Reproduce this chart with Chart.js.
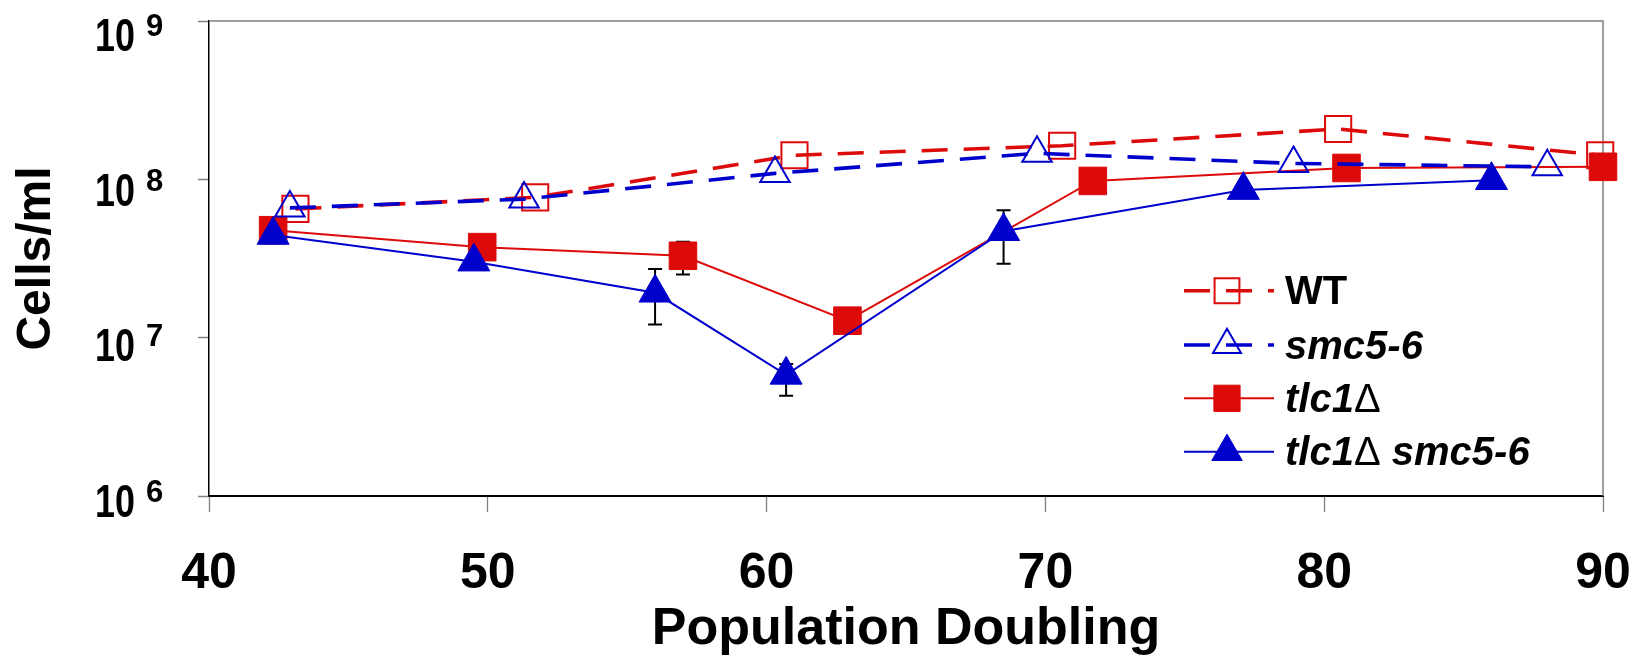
<!DOCTYPE html>
<html>
<head>
<meta charset="utf-8">
<script src="https://cdn.jsdelivr.net/npm/chart.js@4.4.1/dist/chart.umd.min.js"></script>
<style>
  html, body { margin: 0; padding: 0; background: #fff; }
  #wrap { width: 1636px; height: 659px; position: relative; }
</style>
</head>
<body>
<div id="wrap"><canvas id="c" width="1636" height="659"></canvas></div>
<script>
// ---------------- data ----------------
const seriesNames = ['WT', 'smc5-6', 'tlc1Δ', 'tlc1Δ smc5-6'];

const wtX = [43.1, 51.7, 61.0, 70.6, 80.5, 89.9];
const wtY = [6.5e7, 7.7e7, 1.42e8, 1.63e8, 2.08e8, 1.42e8];

const smcX = [42.9, 51.3, 60.3, 69.7, 78.9, 88.0];
const smcY = [6.6e7, 7.5e7, 1.09e8, 1.46e8, 1.26e8, 1.2e8];

const tlcX = [42.3, 49.8, 57.0, 62.9, 71.7, 80.8, 90.0];
const tlcY = [4.77e7, 3.73e7, 3.29e7, 1.28e7, 9.77e7, 1.18e8, 1.2e8];
const tlcErrLow  = [null, null, 2.51e7, null, null, null, null];
const tlcErrHigh = [null, null, 4.04e7, null, null, null, null];

const dblX = [42.3, 49.5, 56.0, 60.7, 68.5, 77.1, 86.0];
const dblY = [4.45e7, 3.02e7, 1.92e7, 5.82e6, 4.7e7, 8.55e7, 9.87e7];
const dblErrLow  = [null, null, 1.21e7, 4.29e6, 2.93e7, null, null];
const dblErrHigh = [null, null, 2.71e7, 6.82e6, 6.39e7, null, null];

const xTickValues = [40, 50, 60, 70, 80, 90];
const yTickExponents = [6, 7, 8, 9];
const yTickBase = '10';
const xTitle = 'Population Doubling';
const yTitle = 'Cells/ml';

// ---------------- styles ----------------
const RED = '#dd0a0a';
const BLUE = '#0000cc';
const FONT = '"Liberation Sans", Arial, Helvetica, sans-serif';

function pts(xs, ys) { return xs.map((x, i) => ({ x: x, y: ys[i] })); }

const errorSets = [
  { xs: tlcX, lo: tlcErrLow, hi: tlcErrHigh },
  { xs: dblX, lo: dblErrLow, hi: dblErrHigh }
];

// error bars drawn behind markers
const errorBarPlugin = {
  id: 'errorBars',
  beforeDatasetsDraw(chart) {
    const ctx = chart.ctx, xs = chart.scales.x, ys = chart.scales.y;
    ctx.save();
    ctx.strokeStyle = '#000';
    ctx.lineWidth = 2;
    errorSets.forEach(s => {
      s.xs.forEach((xv, i) => {
        if (s.lo[i] == null) return;
        const px = xs.getPixelForValue(xv);
        const p1 = ys.getPixelForValue(s.lo[i]);
        const p2 = ys.getPixelForValue(s.hi[i]);
        const cw = 7;
        ctx.beginPath();
        ctx.moveTo(px, p1); ctx.lineTo(px, p2);
        ctx.moveTo(px - cw, p1); ctx.lineTo(px + cw, p1);
        ctx.moveTo(px - cw, p2); ctx.lineTo(px + cw, p2);
        ctx.stroke();
      });
    });
    ctx.restore();
  }
};

// top / right frame in gray
const framePlugin = {
  id: 'frame',
  beforeDatasetsDraw(chart) {
    const {ctx, chartArea: a} = chart;
    ctx.save();
    ctx.strokeStyle = '#808080';
    ctx.lineWidth = 1.5;
    ctx.beginPath();
    ctx.moveTo(a.left, a.top); ctx.lineTo(a.right, a.top); ctx.lineTo(a.right, a.bottom);
    ctx.stroke();
    ctx.restore();
  }
};

// y tick labels 10^n
const yLabelPlugin = {
  id: 'yLabels',
  afterDraw(chart) {
    const ctx = chart.ctx, ys = chart.scales.y;
    ctx.save();
    ctx.fillStyle = '#000';
    ctx.textAlign = 'left';
    ctx.textBaseline = 'alphabetic';
    yTickExponents.forEach(e => {
      const py = ys.getPixelForValue(Math.pow(10, e));
      const base = py + 30 - (py - ys.top) * 0.02;
      ctx.save();
      ctx.translate(95, base);
      ctx.scale(0.78, 1);
      ctx.font = 'bold 46px ' + FONT;
      ctx.fillText(yTickBase, 0, 0);
      ctx.restore();
      ctx.font = 'bold 31px ' + FONT;
      ctx.fillText(String(e), 146, base - 15);
    });
    ctx.restore();
  }
};

function drawMarker(ctx, style, x, y, r, fill, stroke, bw) {
  ctx.beginPath();
  if (style === 'rect') {
    const h = r * Math.SQRT1_2;
    ctx.rect(x - h, y - h, 2 * h, 2 * h);
  } else {
    let rad = 0;
    const T = Math.PI * 2 / 3;
    ctx.moveTo(x + Math.sin(rad) * r, y - Math.cos(rad) * r);
    rad += T; ctx.lineTo(x + Math.sin(rad) * r, y - Math.cos(rad) * r);
    rad += T; ctx.lineTo(x + Math.sin(rad) * r, y - Math.cos(rad) * r);
    ctx.closePath();
  }
  if (fill) { ctx.fillStyle = fill; ctx.fill(); }
  if (bw > 0) { ctx.lineWidth = bw; ctx.strokeStyle = stroke; ctx.setLineDash([]); ctx.stroke(); }
}

const legendItalic = [false, true, true, true];
const legendPlugin = {
  id: 'customLegend',
  afterDraw(chart) {
    const ctx = chart.ctx;
    const rows = [290.7, 345, 398.3, 451.7];
    const x0 = 1184, x1 = 1274, mx = 1227, tx = 1285;
    ctx.save();
    seriesNames.forEach((label, i) => {
      const ds = chart.data.datasets.find(d => d.label === label);
      const y = rows[i];
      ctx.beginPath();
      ctx.setLineDash(ds.borderDash || []);
      ctx.lineDashOffset = 0;
      ctx.strokeStyle = ds.borderColor;
      ctx.lineWidth = ds.borderWidth;
      ctx.moveTo(x0, y); ctx.lineTo(x1, y);
      ctx.stroke();
      ctx.setLineDash([]);
      const bg = ds.pointBackgroundColor === 'rgba(0,0,0,0)' ? null : ds.pointBackgroundColor;
      drawMarker(ctx, ds.pointStyle, mx, y, ds.pointRadius * 0.95, bg, ds.pointBorderColor, ds.pointBorderWidth);
      // text
      let cx = tx;
      const base = y + 13.5;
      ctx.fillStyle = '#000';
      ctx.textAlign = 'left';
      ctx.textBaseline = 'alphabetic';
      const parts = label.split(/(Δ)/);
      parts.forEach(p => {
        if (!p) return;
        if (p === 'Δ') ctx.font = 'normal 40px ' + FONT;
        else ctx.font = (legendItalic[i] ? 'italic ' : 'normal ') + 'bold 40px ' + FONT;
        ctx.fillText(p, cx, base);
        cx += ctx.measureText(p).width;
      });
    });
    ctx.restore();
  }
};

const ctx = document.getElementById('c').getContext('2d');
new Chart(ctx, {
  type: 'line',
  data: {
    datasets: [
      {
        label: seriesNames[3], data: pts(dblX, dblY), order: 0,
        borderColor: BLUE, borderWidth: 2, borderDash: [],
        pointStyle: 'triangle', pointRadius: 18.5, pointHoverRadius: 18.5,
        pointBackgroundColor: BLUE, pointBorderColor: BLUE, pointBorderWidth: 1,
        fill: false, tension: 0, clip: false
      },
      {
        label: seriesNames[1], data: pts(smcX, smcY), order: 1,
        borderColor: BLUE, borderWidth: 3.6, borderDash: [26, 16],
        pointStyle: 'triangle', pointRadius: 17, pointHoverRadius: 17,
        pointBackgroundColor: 'rgba(0,0,0,0)', pointBorderColor: BLUE, pointBorderWidth: 2,
        fill: false, tension: 0, clip: false
      },
      {
        label: seriesNames[2], data: pts(tlcX, tlcY), order: 2,
        borderColor: RED, borderWidth: 2, borderDash: [],
        pointStyle: 'rect', pointRadius: 19.5, pointHoverRadius: 19.5,
        pointBackgroundColor: RED, pointBorderColor: RED, pointBorderWidth: 1,
        fill: false, tension: 0, clip: false
      },
      {
        label: seriesNames[0], data: pts(wtX, wtY), order: 3,
        borderColor: RED, borderWidth: 3.6, borderDash: [26, 16],
        pointStyle: 'rect', pointRadius: 18.5, pointHoverRadius: 18.5,
        pointBackgroundColor: 'rgba(0,0,0,0)', pointBorderColor: RED, pointBorderWidth: 2,
        fill: false, tension: 0, clip: false
      }
    ]
  },
  options: {
    responsive: false,
    animation: false,
    events: [],
    layout: { padding: { left: 0, right: 33, top: 21, bottom: 0 } },
    plugins: {
      legend: { display: false },
      tooltip: { enabled: false }
    },
    scales: {
      x: {
        type: 'linear', min: 40, max: 90,
        afterBuildTicks: s => { s.ticks = xTickValues.map(v => ({ value: v })); },
        afterFit: s => { s.height = 163; },
        ticks: {
          color: '#000', padding: 2,
          font: { family: FONT, size: 50, weight: 'bold', lineHeight: 2.4 },
          maxRotation: 0, autoSkip: false
        },
        grid: { display: true, drawOnChartArea: false, drawTicks: true, tickLength: 16, tickColor: '#808080', tickWidth: 1.3 },
        border: { display: true, color: '#000', width: 2 },
        title: {
          display: true, text: xTitle, color: '#000',
          font: { family: FONT, size: 52, weight: 'bold', lineHeight: 1.2 },
          padding: { top: 0, bottom: -2 }
        }
      },
      y: {
        type: 'logarithmic', min: 1e6, max: 1e9,
        afterBuildTicks: s => { s.ticks = yTickExponents.map(e => ({ value: Math.pow(10, e), major: true })); },
        afterFit: s => { s.width = 209; },
        ticks: { display: false },
        grid: { display: true, drawOnChartArea: false, drawTicks: true, tickLength: 11, tickColor: '#808080', tickWidth: 1.5 },
        border: { display: true, color: '#000', width: 1.5 },
        title: {
          display: true, text: yTitle, color: '#000',
          font: { family: FONT, size: 48, weight: 'bold', lineHeight: 1.2 },
          padding: { top: 8, bottom: 0 }
        }
      }
    }
  },
  plugins: [framePlugin, errorBarPlugin, yLabelPlugin, legendPlugin]
});
</script>
</body>
</html>
